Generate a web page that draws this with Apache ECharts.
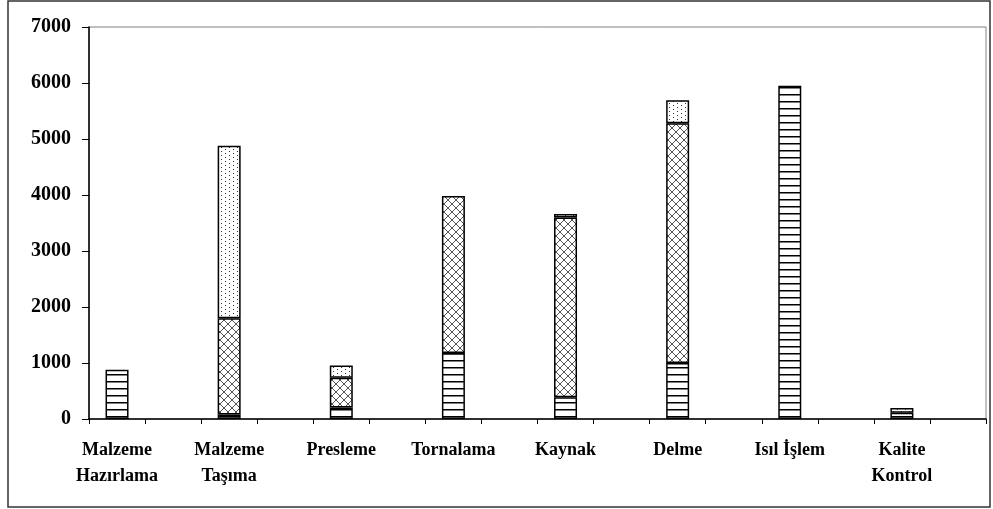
<!DOCTYPE html>
<html>
<head>
<meta charset="utf-8">
<script src="https://cdn.jsdelivr.net/npm/echarts@6/dist/echarts.min.js"></script>
<style>
  html, body { margin: 0; padding: 0; background: #fff; }
  #chart { width: 993px; height: 509px; }
</style>
</head>
<body>
<div id="chart"></div>
<script>
// process steps (each one sits in every other slot on the axis)
const processes = ['Malzeme\nHazırlama', 'Malzeme\nTaşıma', 'Presleme', 'Tornalama',
  'Kaynak', 'Delme', 'Isıl İşlem', 'Kalite\nKontrol']

// stacked parts, bottom to top
const linesPart = [880, 80, 205, 1180, 390, 1000, 5950, 112]
const crossPart = [null, 1720, 530, 2800, 3210, 4280, null, null]
const dotsPart = [null, 3080, 220, null, 60, 410, null, 84]

const yTicks = [0, 1000, 2000, 3000, 4000, 5000, 6000, 7000]

// spread values into 16 slots, empty slot after every process
function spread (arr, fill) {
  let out = []
  arr.forEach(function (v) { out.push(v); out.push(fill) })
  return out
}

function makePattern (kind) {
  let c = document.createElement('canvas')
  let ctx = c.getContext('2d')
  if (kind === 'lines') {
    c.width = 8; c.height = 7
    ctx.fillStyle = '#fff'; ctx.fillRect(0, 0, 8, 7)
    ctx.fillStyle = '#000'; ctx.fillRect(0, 3, 8, 1.5)
  } else if (kind === 'cross') {
    c.width = 8; c.height = 8
    ctx.fillStyle = '#fff'; ctx.fillRect(0, 0, 8, 8)
    ctx.fillStyle = '#555'
    for (let i = 0; i < 8; i++) {
      ctx.fillRect(i, i, 1, 1)
      ctx.fillRect(7 - i, i, 1, 1)
    }
  } else {
    c.width = 8; c.height = 8
    ctx.fillStyle = '#fff'; ctx.fillRect(0, 0, 8, 8)
    ctx.fillStyle = '#333'
    ctx.fillRect(1, 1, 1, 1)
    ctx.fillRect(5, 3, 1, 1)
    ctx.fillRect(1, 5, 1, 1)
    ctx.fillRect(5, 7, 1, 1)
  }
  return { image: c, repeat: 'repeat' }
}

let font = '"Liberation Serif", "Times New Roman", serif'

function barSeries (name, data, kind) {
  return {
    name: name,
    type: 'bar',
    stack: 'total',
    barWidth: 23,
    data: spread(data, null),
    itemStyle: {
      color: makePattern(kind),
      borderColor: '#000',
      borderWidth: 1.5
    },
    emphasis: { disabled: true }
  }
}

let chart = echarts.init(document.getElementById('chart'))
chart.setOption({
  animation: false,
  backgroundColor: '#fff',
  grid: {
    left: 89, top: 27, right: 7, bottom: 90,
    show: true,
    borderColor: '#808080',
    borderWidth: 1
  },
  xAxis: {
    type: 'category',
    data: spread(processes, ''),
    axisLine: { lineStyle: { color: '#000', width: 1.5 } },
    axisTick: { show: true, length: 5, alignWithLabel: false, lineStyle: { color: '#000' } },
    axisLabel: {
      interval: 0,
      margin: 18,
      color: '#000',
      fontFamily: font,
      fontWeight: 'bold',
      fontSize: 18,
      lineHeight: 26
    }
  },
  yAxis: {
    type: 'value',
    min: yTicks[0],
    max: yTicks[yTicks.length - 1],
    interval: 1000,
    splitLine: { show: false },
    axisLine: { show: true, lineStyle: { color: '#000', width: 1.5 } },
    axisTick: { show: true, length: 7, lineStyle: { color: '#000' } },
    axisLabel: {
      margin: 18,
      color: '#000',
      fontFamily: font,
      fontWeight: 'bold',
      fontSize: 20,
      formatter: function (v) { return String(v) }
    }
  },
  graphic: [{
    type: 'rect',
    shape: { x: 8, y: 1, width: 982, height: 506 },
    style: { fill: null, stroke: '#333', lineWidth: 1.5 },
    silent: true
  }],
  series: [
    barSeries('Lines', linesPart, 'lines'),
    barSeries('Cross', crossPart, 'cross'),
    barSeries('Dots', dotsPart, 'dots')
  ]
})
</script>
</body>
</html>
